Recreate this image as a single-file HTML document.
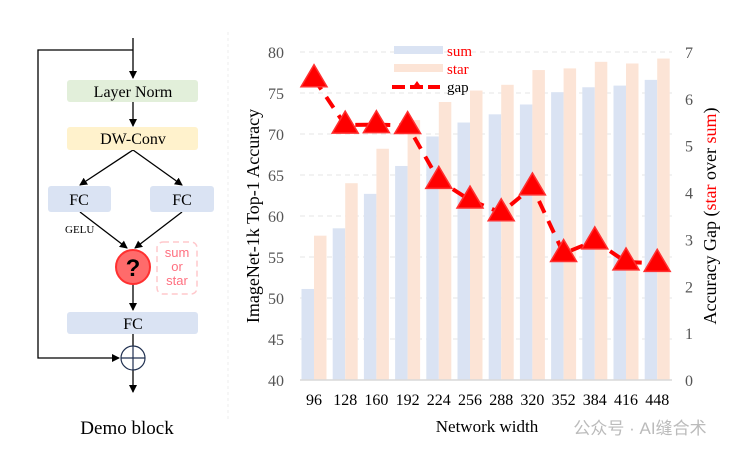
<!DOCTYPE html>
<html><head><meta charset="utf-8"><style>
body{margin:0;background:#fff;width:747px;height:459px;overflow:hidden;font-family:"Liberation Serif",serif}
svg{position:absolute;left:0;top:0}
</style></head><body>
<svg width="747" height="459">
<defs><marker id="ah" markerWidth="8" markerHeight="8" refX="7" refY="4" orient="auto" markerUnits="userSpaceOnUse"><path d="M0,0 L8,4 L0,8 Z" fill="#000"/></marker></defs>
<g stroke="#000" stroke-width="1.3" fill="none">
<line x1="133" y1="38" x2="133" y2="78" marker-end="url(#ah)"/>
<polyline points="133,50 38,50 38,358 119,358" marker-end="url(#ah)"/>
<line x1="133" y1="102" x2="133" y2="126" marker-end="url(#ah)"/>
<line x1="133" y1="150" x2="80" y2="185" marker-end="url(#ah)"/>
<line x1="133" y1="150" x2="182" y2="185" marker-end="url(#ah)"/>
<line x1="80" y1="212" x2="127" y2="248" marker-end="url(#ah)"/>
<line x1="182" y1="212" x2="135" y2="248" marker-end="url(#ah)"/>
<line x1="133" y1="284" x2="133" y2="310" marker-end="url(#ah)"/>
<line x1="133" y1="334" x2="133" y2="346"/>
<line x1="133" y1="370" x2="133" y2="392" marker-end="url(#ah)"/>
</g>
<rect x="67" y="80" width="131" height="22" rx="3" fill="#e2efda"/>
<text x="133" y="97" font-size="16" text-anchor="middle">Layer Norm</text>
<rect x="67" y="127" width="131" height="23" rx="3" fill="#fff2cc"/>
<text x="133" y="144" font-size="16" text-anchor="middle">DW-Conv</text>
<rect x="48" y="186" width="63" height="26" rx="3" fill="#dae3f3"/>
<text x="79" y="205" font-size="16" text-anchor="middle">FC</text>
<rect x="150" y="186" width="64" height="26" rx="3" fill="#dae3f3"/>
<text x="182" y="205" font-size="16" text-anchor="middle">FC</text>
<text x="65" y="233" font-size="11">GELU</text>
<circle cx="133" cy="267" r="17" fill="#ff6b6b" stroke="#ff3030" stroke-width="2"/>
<text x="133" y="276" font-size="24" font-weight="bold" font-family="Liberation Sans" text-anchor="middle">?</text>
<rect x="157" y="242" width="40" height="52" rx="6" fill="none" stroke="#ffc8cc" stroke-dasharray="6,4" stroke-width="1.5"/>
<g font-family="Liberation Sans" font-size="13" fill="#ff7080" text-anchor="middle"><text x="177" y="257">sum</text><text x="177" y="271">or</text><text x="177" y="285">star</text></g>
<rect x="67" y="312" width="131" height="22" rx="3" fill="#dae3f3"/>
<text x="133" y="329" font-size="16" text-anchor="middle">FC</text>
<g stroke="#203050" stroke-width="1.2" fill="none"><circle cx="133" cy="358" r="12"/><line x1="121" y1="358" x2="145" y2="358"/><line x1="133" y1="346" x2="133" y2="370"/></g>
<text x="127" y="434" font-size="19" text-anchor="middle">Demo block</text>
<line x1="228" y1="32" x2="228" y2="420" stroke="#eee" stroke-dasharray="3,3"/>
<g id="chart"></g>
<text x="640" y="434" font-size="17" fill="#bbb" font-family="Liberation Sans, Noto Sans CJK SC, sans-serif" text-anchor="middle">公众号 · AI缝合术</text>
</svg>
<script>
const categories=["96","128","160","192","224","256","288","320","352","384","416","448"];
const sumVals=[51.1,58.5,62.7,66.1,69.7,71.4,72.4,73.6,75.1,75.7,75.9,76.6];
const starVals=[57.6,64.0,68.2,71.7,73.9,75.3,76.0,77.8,78.0,78.8,78.6,79.2];
const gapVals=[6.43,5.44,5.45,5.43,4.26,3.84,3.57,4.12,2.7,2.97,2.52,2.49];
const leftTicks=[40,45,50,55,60,65,70,75,80];
const rightTicks=[0,1,2,3,4,5,6,7];
const NS="http://www.w3.org/2000/svg";
const g=document.getElementById('chart');
const X0=314,DX=31.2,BW=12.5;
const xc=i=>X0+i*DX;
const yL=v=>380-(v-40)*8.2;
const yR=v=>380-v*46.86;
function mk(t,a,txt){const e=document.createElementNS(NS,t);for(const k in a)e.setAttribute(k,a[k]);if(txt!==undefined)e.textContent=txt;g.appendChild(e);return e;}
leftTicks.forEach(t=>{
 if(t>40){const l=mk('line',{x1:300,x2:672,y1:yL(t),y2:yL(t),stroke:'#e6e6e6','stroke-dasharray':'5,4'});
 
 }
 const e=mk('text',{x:284,y:yL(t)+6,'font-size':16,fill:'#555','text-anchor':'end'},t);
 
 
});
rightTicks.forEach(t=>{
 const e=mk('text',{x:685,y:yR(t)+6,'font-size':16,fill:'#555'},t);
 
 
});
categories.forEach((c,i)=>{
 const b1=mk('rect',{x:xc(i)-BW,y:yL(sumVals[i]),width:BW,height:380-yL(sumVals[i]),fill:'#dae3f3'});
 
 
 const b2=mk('rect',{x:xc(i),y:yL(starVals[i]),width:BW,height:380-yL(starVals[i]),fill:'#fce4d6'});
 
 
 const t=mk('text',{x:xc(i),y:405,'font-size':16,'text-anchor':'middle'},c);
 
 
});
const ax=mk('line',{x1:300,x2:672,y1:380,y2:380,stroke:'#d9d9d9','stroke-width':1.5});


const pl=mk('polyline',{points:gapVals.map((v,i)=>xc(i)+','+yR(v)).join(' '),fill:'none',stroke:'#ff0000','stroke-width':4,'stroke-dasharray':'13,9'});


gapVals.forEach((v,i)=>{const x=xc(i),y=yR(v);
 const p=mk('path',{d:`M${x},${y-14} L${x+13},${y+8} L${x-13},${y+8} Z`,fill:'#ff0000',stroke:'#ff3030','stroke-width':1.5});
 
 
});
const l1=mk('rect',{x:394,y:46,width:49,height:8,fill:'#dae3f3'});


mk('text',{x:447,y:56,'font-size':15,fill:'#ff0000'},'sum');
const l2=mk('rect',{x:394,y:64,width:49,height:8,fill:'#fce4d6'});


mk('text',{x:447,y:74,'font-size':15,fill:'#ff0000'},'star');
const l3=mk('line',{x1:392,x2:440,y1:87,y2:87,stroke:'#ff0000','stroke-width':4,'stroke-dasharray':'13,5'});


mk('path',{d:'M417,81 L422,88 L412,88 Z',fill:'#ff0000'});
mk('text',{x:447,y:92,'font-size':15},'gap');
const yt=mk('text',{x:0,y:0,'font-size':18,'text-anchor':'middle',transform:'translate(259,216) rotate(-90)'},'ImageNet-1k Top-1 Accuracy');


const rt=mk('text',{x:0,y:0,'font-size':18,'text-anchor':'middle',transform:'translate(716,216) rotate(-90)'});


rt.innerHTML='Accuracy Gap (<tspan fill="#ff0000">star</tspan> over <tspan fill="#ff0000">sum</tspan>)';
const xt=mk('text',{x:487,y:432,'font-size':17,'text-anchor':'middle'},'Network width');


</script>
</body></html>
